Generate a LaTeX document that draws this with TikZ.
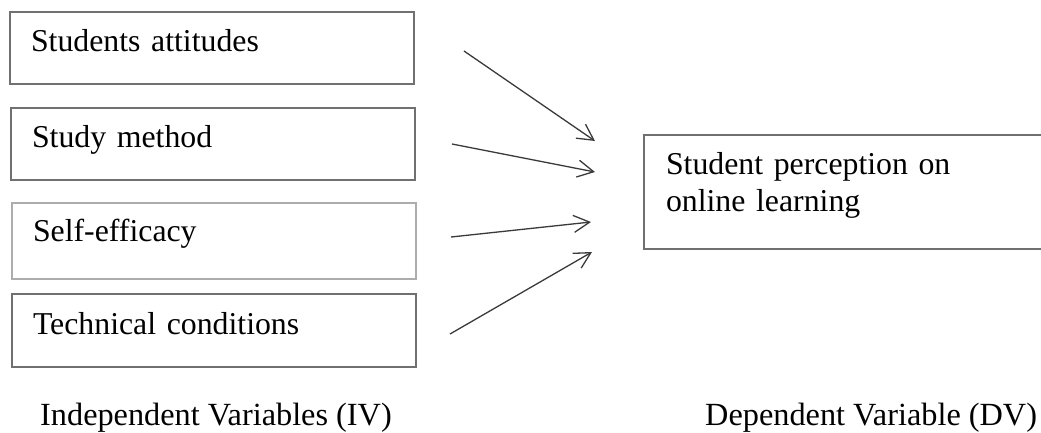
\documentclass[tikz,border=0pt]{standalone}
\usepackage{fontspec}
\setmainfont{Liberation Serif}
\usetikzlibrary{arrows.meta}
\definecolor{boxgray}{HTML}{707070}
\definecolor{lightgray}{HTML}{ADADAD}
\definecolor{arrowgray}{HTML}{3A3A3A}
\tikzset{
  ivbox/.style={draw=boxgray, line width=2pt, anchor=north west, inner ysep=0pt,
    inner xsep=21pt, text width=362pt, align=left,
    font=\fontsize{31.8}{37}\selectfont},
  link/.style={draw=arrowgray, line width=1.3pt,
    -{Straight Barb[length=16pt,width=17pt,line width=1.3pt]}},
  caption/.style={anchor=base west, inner sep=0pt, font=\fontsize{32.3}{37}\selectfont}
}
\begin{document}
\begin{tikzpicture}[x=1pt,y=-1pt]
\useasboundingbox (0,0) rectangle (1041,432);
\clip (0,0) rectangle (1041,432);
\node[ivbox, text height=39pt, text depth=33pt] (att) at (9,11) {Students attitudes};
\node[ivbox, text height=39pt, text depth=33pt] (meth) at (10,107) {Study method};
\node[ivbox, draw=lightgray, text height=38pt, text depth=38pt] (eff) at (11,202) {Self-efficacy};
\node[ivbox, text height=40pt, text depth=33pt] (tech) at (11,293) {Technical conditions};
\node[ivbox, inner xsep=22pt, text width=373pt, text height=39pt, text depth=75pt] (dv) at (643,134)
  {Student perception on\\online learning};
\coordinate (s1) at (464,51);  \coordinate (e1) at (595,141);
\coordinate (s2) at (452,144); \coordinate (e2) at (595,172);
\coordinate (s3) at (451,237); \coordinate (e3) at (591,222);
\coordinate (s4) at (450,334); \coordinate (e4) at (592,252);
\draw[link] (s1) -- (e1);
\draw[link] (s2) -- (e2);
\draw[link] (s3) -- (e3);
\draw[link] (s4) -- (e4);
\node[caption] (ivlab) at (40,425) {Independent Variables (IV)};
\node[caption] (dvlab) at (705,425) {Dependent Variable (DV)};
\end{tikzpicture}
\end{document}
